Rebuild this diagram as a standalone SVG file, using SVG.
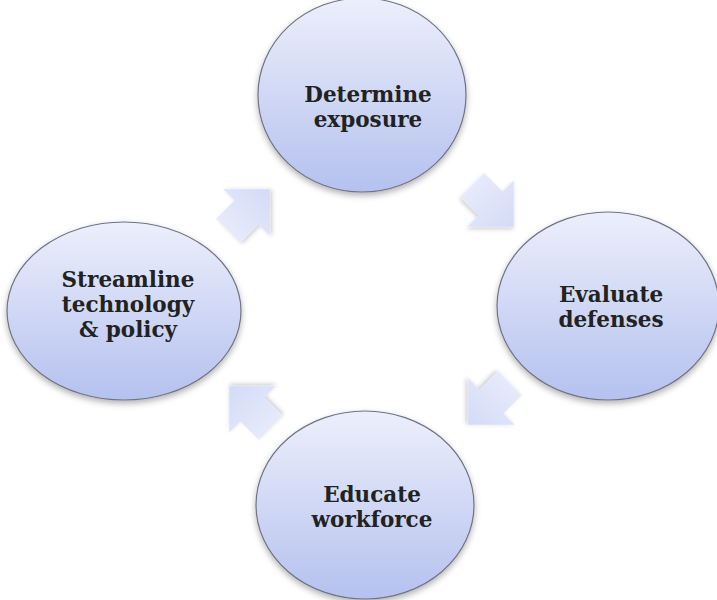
<svg xmlns="http://www.w3.org/2000/svg" width="717" height="600" viewBox="0 0 717 600">
<defs>
<linearGradient id="gNode" x1="0" y1="0" x2="0" y2="1">
<stop offset="0" stop-color="#eceffb"/>
<stop offset="1" stop-color="#b5c1ef"/>
</linearGradient>
<linearGradient id="gArrow" x1="0" y1="0" x2="1" y2="0">
<stop offset="0" stop-color="#e6eafa"/>
<stop offset="1" stop-color="#d4dbf7"/>
</linearGradient>
<filter id="shadow" x="-20%" y="-20%" width="140%" height="150%">
<feDropShadow dx="0" dy="3" stdDeviation="3" flood-color="#000" flood-opacity="0.3"/>
</filter>
<filter id="ashadow" x="-30%" y="-30%" width="160%" height="160%">
<feDropShadow dx="1" dy="2" stdDeviation="2" flood-color="#000" flood-opacity="0.2"/>
</filter>
<path id="arrowShape" d="M-28,-17 L-2,-17 L-2,-33 L31,0 L-2,33 L-2,17 L-28,17 Z"/>
</defs>
<style>
.node{fill:url(#gNode);stroke:#6f7383;stroke-width:1.2;filter:url(#shadow)}
.arrow{fill:url(#gArrow);filter:url(#ashadow)}
.lbl{font-family:"DejaVu Serif","Liberation Serif",serif;font-size:21.5px;font-weight:bold;fill:#222222;text-anchor:middle}
</style>
<rect width="717" height="600" fill="#ffffff"/>
<g id="connectors">
<use href="#arrowShape" class="arrow" transform="translate(248,211) rotate(-45)"/>
<use href="#arrowShape" class="arrow" transform="translate(492,205) rotate(45)"/>
<use href="#arrowShape" class="arrow" transform="translate(490,403) rotate(135)"/>
<use href="#arrowShape" class="arrow" transform="translate(251,408) rotate(225)"/>
</g>
<g id="determine">
<ellipse class="node" cx="362" cy="95" rx="104" ry="97"/>
<text class="lbl" x="368" y="102">Determine</text>
<text class="lbl" x="368" y="127">exposure</text>
</g>
<g id="evaluate">
<ellipse class="node" cx="608" cy="306" rx="111" ry="94"/>
<text class="lbl" x="611" y="302">Evaluate</text>
<text class="lbl" x="611" y="327">defenses</text>
</g>
<g id="educate">
<ellipse class="node" cx="365" cy="505" rx="109" ry="94"/>
<text class="lbl" x="372" y="502">Educate</text>
<text class="lbl" x="372" y="527">workforce</text>
</g>
<g id="streamline">
<ellipse class="node" cx="124" cy="311" rx="117" ry="89"/>
<text class="lbl" x="128" y="287">Streamline</text>
<text class="lbl" x="128" y="312">technology</text>
<text class="lbl" x="128" y="337">&amp; policy</text>
</g>
</svg>
